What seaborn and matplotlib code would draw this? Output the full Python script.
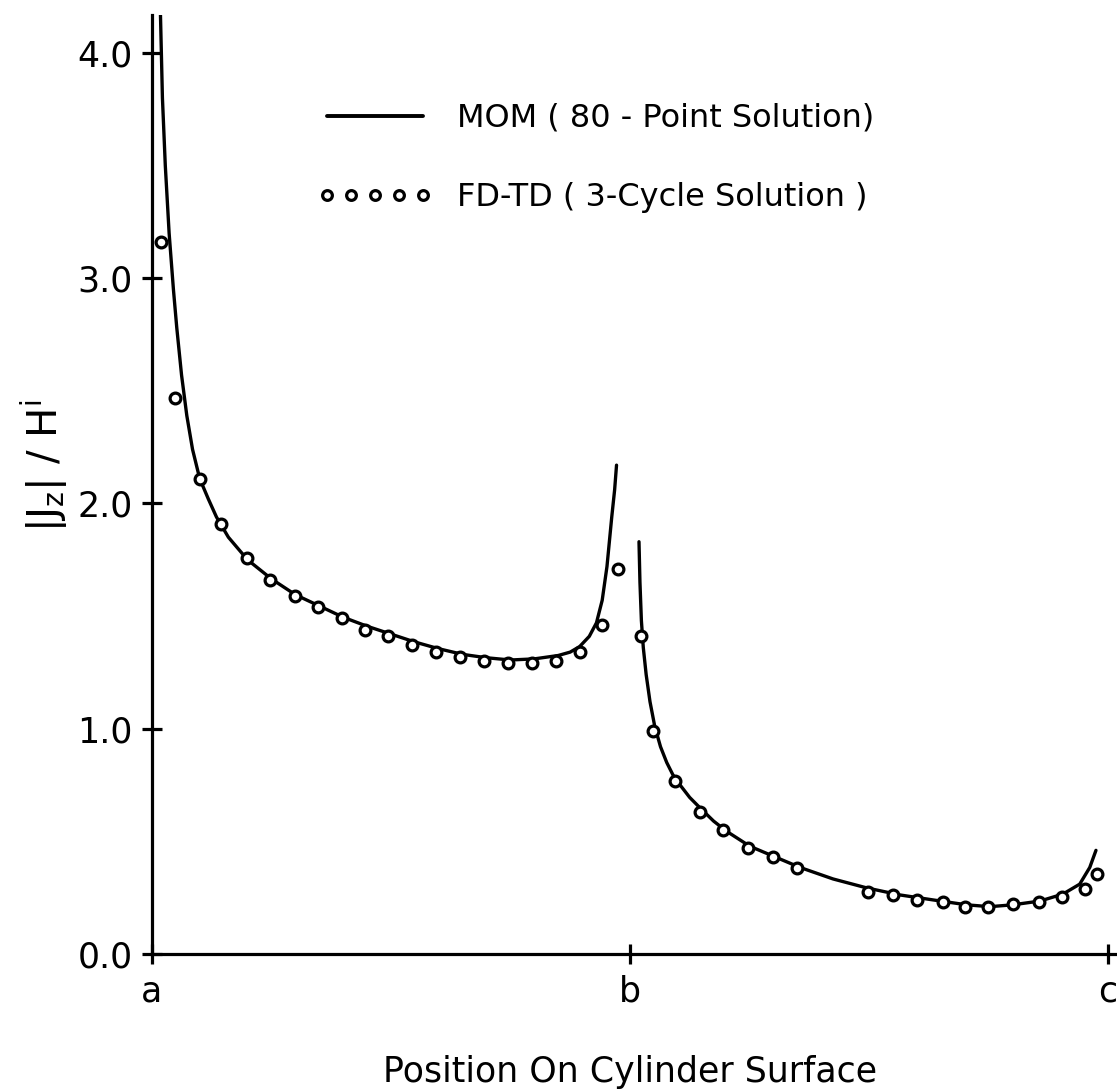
import seaborn as sns
import pandas as pd
import matplotlib.pyplot as plt
from matplotlib.lines import Line2D

# MOM (80-point) solution; a=0, b=1, c=2
mom_x1 = [0.017, 0.022, 0.028, 0.036, 0.045, 0.052, 0.062, 0.073, 0.085, 0.100, 0.118, 0.135,
          0.16, 0.20, 0.25, 0.30, 0.35, 0.40, 0.45, 0.50, 0.55, 0.60, 0.65, 0.70, 0.75, 0.80,
          0.85, 0.875, 0.895, 0.915, 0.93, 0.942, 0.952, 0.962, 0.968, 0.972]
mom_y1 = [4.25, 3.80, 3.50, 3.20, 2.95, 2.78, 2.57, 2.39, 2.24, 2.11, 2.02, 1.94,
          1.85, 1.75, 1.665, 1.595, 1.545, 1.495, 1.455, 1.42, 1.385, 1.355, 1.33, 1.315, 1.305, 1.31,
          1.325, 1.34, 1.365, 1.41, 1.47, 1.57, 1.72, 1.94, 2.06, 2.17]
mom_x2 = [1.019, 1.021, 1.024, 1.028, 1.034, 1.042, 1.052, 1.064, 1.077, 1.090, 1.105, 1.125,
          1.146, 1.175, 1.202, 1.251, 1.299, 1.356, 1.425, 1.496, 1.565, 1.634, 1.705, 1.753,
          1.80, 1.858, 1.906, 1.941, 1.962, 1.975]
mom_y2 = [1.83, 1.65, 1.48, 1.36, 1.24, 1.12, 1.01, 0.92, 0.85, 0.795, 0.75, 0.695,
          0.65, 0.59, 0.545, 0.478, 0.435, 0.384, 0.333, 0.293, 0.262, 0.24, 0.218, 0.21,
          0.218, 0.235, 0.266, 0.31, 0.384, 0.46]

# FD-TD (3-cycle) solution
fd_x = [0.019, 0.048, 0.100, 0.145, 0.199, 0.247, 0.299, 0.347, 0.397, 0.446, 0.494, 0.544,
        0.594, 0.644, 0.694, 0.745, 0.796, 0.846, 0.895, 0.941, 0.975,
        1.023, 1.048, 1.094, 1.146, 1.195, 1.247, 1.299, 1.349,
        1.498, 1.550, 1.600, 1.655, 1.701, 1.749, 1.801, 1.856, 1.904, 1.952, 1.977]
fd_y = [3.16, 2.47, 2.11, 1.91, 1.76, 1.66, 1.59, 1.54, 1.49, 1.44, 1.41, 1.37,
        1.34, 1.32, 1.30, 1.29, 1.29, 1.30, 1.34, 1.46, 1.71,
        1.41, 0.99, 0.77, 0.63, 0.55, 0.47, 0.43, 0.38,
        0.275, 0.26, 0.24, 0.23, 0.21, 0.21, 0.22, 0.23, 0.255, 0.29, 0.355]

yticks = [0.0, 1.0, 2.0, 3.0, 4.0]
ytick_labels = ['0.0', '1.0', '2.0', '3.0', '4.0']
xticks = [0, 1, 2]
xtick_labels = ['a', 'b', 'c']

mom = pd.DataFrame({'pos': mom_x1 + mom_x2,
                    'j': mom_y1 + mom_y2,
                    'seg': [1] * len(mom_x1) + [2] * len(mom_x2)})
fd = pd.DataFrame({'pos': fd_x, 'j': fd_y})

sns.set_style('ticks')
plt.rcParams['font.family'] = ['DejaVu Sans']
plt.rcParams['mathtext.fontset'] = 'dejavusans'
for k in ['text.color', 'axes.labelcolor', 'xtick.color', 'ytick.color', 'axes.edgecolor']:
    plt.rcParams[k] = 'black'

fig = plt.figure(figsize=(11.17, 10.91), dpi=100)
ax = fig.add_axes([0.136, 0.1256, 0.864, 0.861])

sns.lineplot(data=mom, x='pos', y='j', units='seg', estimator=None, sort=False,
             color='black', linewidth=2.4, ax=ax)
sns.scatterplot(data=fd, x='pos', y='j', marker='o', s=60, facecolor='white',
                edgecolor='black', linewidth=2.3, zorder=3, ax=ax)

ax.set_xlim(0, 2.019)
ax.set_ylim(0, 4.17)
ax.set_xticks(xticks)
ax.set_xticklabels(xtick_labels)
ax.set_yticks(yticks)
ax.set_yticklabels(ytick_labels)
for s in ['top', 'right']:
    ax.spines[s].set_visible(False)
for s in ['left', 'bottom']:
    ax.spines[s].set_linewidth(2.3)
ax.tick_params(axis='both', direction='inout', length=14, width=2.3, labelsize=25)
ax.tick_params(axis='x', pad=8)
ax.tick_params(axis='y', pad=7)

ax.set_xlabel('Position On Cylinder Surface', fontsize=25)
ax.set_ylabel(r'$|\mathrm{J_z}|\ /\ \mathrm{H^i}$', fontsize=29)
ax.xaxis.set_label_coords(0.495, -0.1075)
ax.yaxis.set_label_coords(-0.085, 0.52)

handles = [Line2D([], [], color='black', linewidth=2.8),
           Line2D([], [], color='black', linestyle='none', marker='o', markersize=7,
                  markerfacecolor='white', markeredgewidth=2.3)]
ax.legend(handles, ['MOM ( 80 - Point Solution)', 'FD-TD ( 3-Cycle Solution )'],
          loc='upper left', bbox_to_anchor=(0.172, 0.906), frameon=False,
          numpoints=5, handlelength=3.6, handletextpad=0.75, labelspacing=1.5,
          borderpad=0, borderaxespad=0, fontsize=23)

fig.savefig('out.png', dpi=100)
